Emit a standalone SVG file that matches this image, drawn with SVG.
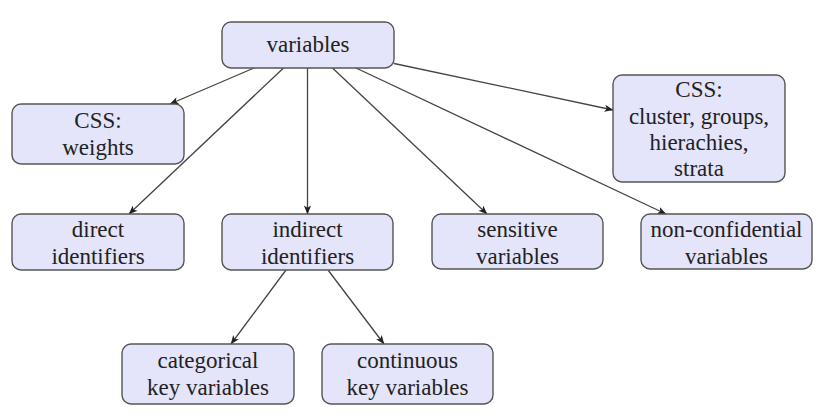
<svg xmlns="http://www.w3.org/2000/svg" width="832" height="418" viewBox="0 0 832 418">
<defs>
<marker id="ah" viewBox="0 0 10 10" refX="9.5" refY="5" markerWidth="9" markerHeight="9" markerUnits="userSpaceOnUse" orient="auto">
<path d="M0,1 L10,5 L0,9 L2.5,5 Z" fill="#222"/>
</marker>
</defs>
<rect width="832" height="418" fill="#fff"/>
<g id="connectors" stroke="#444" stroke-width="1.3" fill="none" marker-end="url(#ah)">
<line x1="254" y1="68" x2="170" y2="104"/>
<line x1="283.5" y1="68" x2="129" y2="214"/>
<line x1="307.5" y1="68" x2="307.5" y2="214"/>
<line x1="332.5" y1="68" x2="487" y2="214"/>
<line x1="356" y1="68" x2="666" y2="214"/>
<line x1="394" y1="63.5" x2="613" y2="110"/>
<line x1="286" y1="270" x2="231" y2="344"/>
<line x1="328" y1="270" x2="384" y2="344"/>
</g>
<g id="nodes" font-family="Liberation Serif" font-size="23" text-anchor="middle">
<g id="variables">
<rect x="222" y="22" width="172" height="46" rx="9" fill="#e4e4fa" stroke="#555" stroke-width="1.4"/>
<text x="308" y="52" fill="#222">variables</text>
</g>
<g id="css-weights">
<rect x="12" y="104" width="172" height="60" rx="9" fill="#e4e4fa" stroke="#555" stroke-width="1.4"/>
<text x="98" y="128" fill="#222">CSS:</text>
<text x="98" y="155" fill="#222">weights</text>
</g>
<g id="css-cluster">
<rect x="613" y="75" width="172" height="107" rx="9" fill="#e4e4fa" stroke="#555" stroke-width="1.4"/>
<text x="699" y="97" fill="#222">CSS:</text>
<text x="699" y="124" fill="#222">cluster, groups,</text>
<text x="699" y="150" fill="#222">hierachies,</text>
<text x="699" y="176" fill="#222">strata</text>
</g>
<g id="direct">
<rect x="12" y="214" width="172" height="56" rx="9" fill="#e4e4fa" stroke="#555" stroke-width="1.4"/>
<text x="98" y="237" fill="#222">direct</text>
<text x="98" y="264" fill="#222">identifiers</text>
</g>
<g id="indirect">
<rect x="222" y="214" width="171" height="56" rx="9" fill="#e4e4fa" stroke="#555" stroke-width="1.4"/>
<text x="307.5" y="237" fill="#222">indirect</text>
<text x="307.5" y="264" fill="#222">identifiers</text>
</g>
<g id="sensitive">
<rect x="432" y="214" width="171" height="55" rx="9" fill="#e4e4fa" stroke="#555" stroke-width="1.4"/>
<text x="517.5" y="237" fill="#222">sensitive</text>
<text x="517.5" y="264" fill="#222">variables</text>
</g>
<g id="nonconf">
<rect x="641" y="214" width="171" height="55" rx="9" fill="#e4e4fa" stroke="#555" stroke-width="1.4"/>
<text x="726.5" y="237" fill="#222">non-confidential</text>
<text x="726.5" y="264" fill="#222">variables</text>
</g>
<g id="categorical">
<rect x="122" y="344" width="172" height="60" rx="9" fill="#e4e4fa" stroke="#555" stroke-width="1.4"/>
<text x="208" y="368" fill="#222">categorical</text>
<text x="208" y="395" fill="#222">key variables</text>
</g>
<g id="continuous">
<rect x="322" y="344" width="171" height="60" rx="9" fill="#e4e4fa" stroke="#555" stroke-width="1.4"/>
<text x="407.5" y="368" fill="#222">continuous</text>
<text x="407.5" y="395" fill="#222">key variables</text>
</g>
</g>
</svg>
